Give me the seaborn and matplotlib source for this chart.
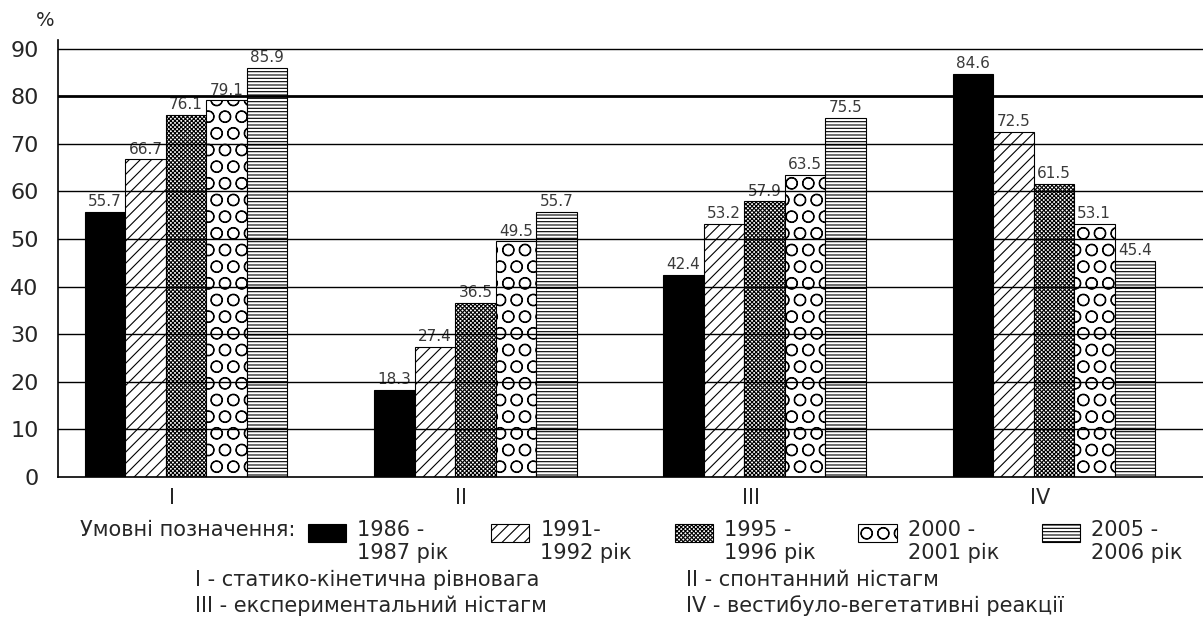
import numpy as np
import pandas as pd
import matplotlib
matplotlib.use("Agg")
import matplotlib.pyplot as plt
import seaborn as sns

categories = ["I", "II", "III", "IV"]
periods = ["1986 -\n1987 рік", "1991-\n1992 рік", "1995 -\n1996 рік",
           "2000 -\n2001 рік", "2005 -\n2006 рік"]
v_1986 = [55.7, 18.3, 42.4, 84.6]
v_1991 = [66.7, 27.4, 53.2, 72.5]
v_1995 = [76.1, 36.5, 57.9, 61.5]
v_2000 = [79.1, 49.5, 63.5, 53.1]
v_2005 = [85.9, 55.7, 75.5, 45.4]
yticks = [0, 10, 20, 30, 40, 50, 60, 70, 80, 90]

series = [v_1986, v_1991, v_1995, v_2000, v_2005]
df = pd.DataFrame({
    "cat": [c for s in series for c in categories],
    "period": [p for p, s in zip(periods, series) for _ in s],
    "value": [v for s in series for v in s],
})

sns.set_style("white")
plt.rcParams['font.family'] = ['DejaVu Sans']
plt.rcParams['hatch.linewidth'] = 0.8

fig = plt.figure(figsize=(12.03, 6.18), dpi=100)
ax = fig.add_axes([58/1203, 1-477/618, 1-58/1203, (477-40)/618])

sns.barplot(data=df, x="cat", y="value", hue="period", order=categories,
            hue_order=periods, width=0.70, gap=0, ax=ax, legend=False,
            errorbar=None, zorder=1)

hatches = [None, "///", "xxxxxxxx", "O", "-----"]
for cont, h in zip(ax.containers, hatches):
    for bar in cont:
        bar.set_edgecolor("black")
        bar.set_linewidth(0.8)
        if h is None:
            bar.set_facecolor("black")
        else:
            bar.set_facecolor("white")
            bar.set_hatch(h)
    ax.bar_label(cont, labels=[f"{v:.1f}" for v in cont.datavalues],
                 padding=2, fontsize=11, color="#3a3a3a")

ax.set_ylim(0, 91.8)
ax.set_xlim(-0.443, 3.516)
ax.set_yticks(yticks)
ax.set_yticklabels([str(t) for t in yticks], fontsize=16)
for t in yticks[1:]:
    ax.axhline(t, color="black", lw=2.0 if t == 80 else 1.0, zorder=3)

# group labels sit a little left of the group centre in the original
ax.set_xticks([i - 0.048 for i in range(len(categories))])
ax.set_xticklabels(categories, fontsize=15)
ax.set_xticks([0.5, 1.5, 2.5], minor=True)
ax.tick_params(axis="x", which="major", length=0, pad=8)
ax.tick_params(axis="x", which="minor", length=10, width=1, color="black")
ax.tick_params(axis="y", length=8, width=1, color="black", pad=6)
ax.set_xlabel("")
ax.set_ylabel("")

for side in ["top", "right"]:
    ax.spines[side].set_visible(False)
for side in ["left", "bottom"]:
    ax.spines[side].set_color("black")
    ax.spines[side].set_linewidth(1.2)

fig.text(36/1203, 1-20/618, "%", fontsize=14, ha="left", va="center")

handles = [cont.patches[0] for cont in ax.containers]
leg = fig.legend(handles, periods, loc="upper left",
                 bbox_to_anchor=(308/1203, 1-520/618), ncol=5, frameon=False,
                 fontsize=15, handlelength=1.83, handleheight=0.96,
                 handletextpad=0.53, columnspacing=2.05, borderpad=0,
                 borderaxespad=0, labelspacing=0)
# boxes line up with the first line of each label, not the middle
for hd in leg.legend_handles:
    hd.set_y(hd.get_y() + 7)

fig.text(80/1203, 1-530/618, "Умовні позначення:", fontsize=15,
         ha="left", va="center")
fig.text(195/1203, 1-580/618, "І - статико-кінетична рівновага",
         fontsize=15, ha="left", va="center")
fig.text(195/1203, 1-606/618, "ІІІ - експериментальний ністагм",
         fontsize=15, ha="left", va="center")
fig.text(686/1203, 1-580/618, "ІІ - спонтанний ністагм",
         fontsize=15, ha="left", va="center")
fig.text(686/1203, 1-606/618, "ІV - вестибуло-вегетативні реакції",
         fontsize=15, ha="left", va="center")

fig.savefig("out.png", dpi=100)
